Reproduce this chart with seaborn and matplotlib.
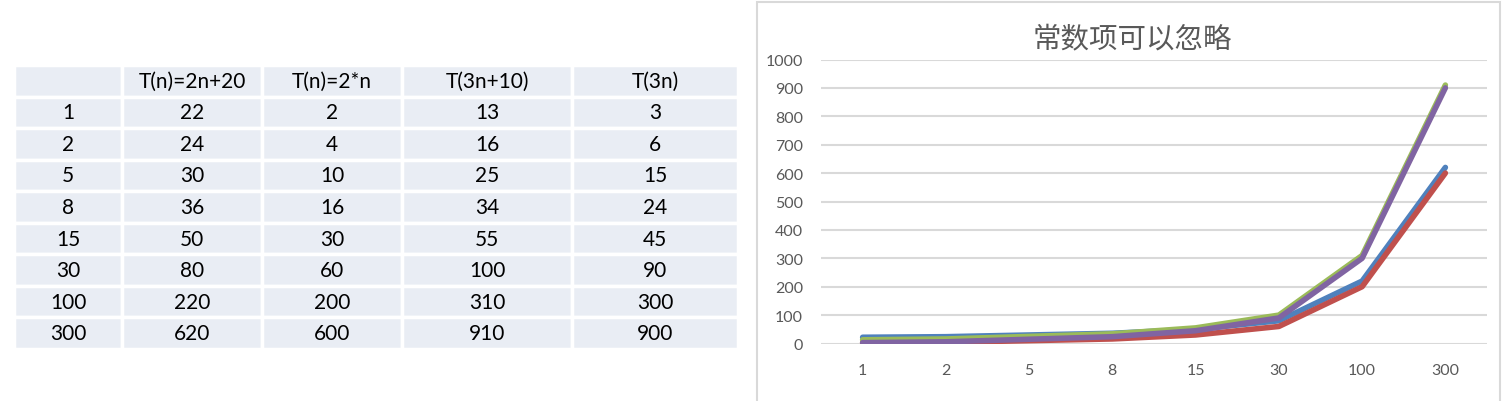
import matplotlib
matplotlib.use("Agg")
import matplotlib.pyplot as plt
from matplotlib.patches import Rectangle
import seaborn as sns
import pandas as pd

# ---- data ----
n_values = ["1", "2", "5", "8", "15", "30", "100", "300"]
series_names = ["T(n)=2n+20", "T(n)=2*n", "T(3n+10)", "T(3n)"]
t_2n_20 = [22, 24, 30, 36, 50, 80, 220, 620]
t_2n = [2, 4, 10, 16, 30, 60, 200, 600]
t_3n_10 = [13, 16, 25, 34, 55, 100, 310, 910]
t_3n = [3, 6, 15, 24, 45, 90, 300, 900]
y_ticks = [0, 100, 200, 300, 400, 500, 600, 700, 800, 900, 1000]
title = "常数项可以忽略"

colors = ["#4F81BD", "#C0504D", "#9BBB59", "#8064A2"]

sns.set_theme(style="white")
plt.rcParams["font.family"] = ["Lato", "Noto Sans CJK SC", "DejaVu Sans"]

W, H = 1506, 402
fig = plt.figure(figsize=(W / 100, H / 100), dpi=100)

# ---- table ----
tab_ax = fig.add_axes([14 / W, (H - 350) / H, 724 / W, 284 / H])
tab_ax.axis("off")
all_series = [t_2n_20, t_2n, t_3n_10, t_3n]
cell_text = [[""] + series_names]
for i, n in enumerate(n_values):
    cell_text.append([n] + [str(s[i]) for s in all_series])
col_w = [108, 140, 140, 170, 166]
col_w = [c / sum(col_w) for c in col_w]
tbl = tab_ax.table(cellText=cell_text, colWidths=col_w, cellLoc="center",
                   bbox=[0, 0, 1, 1])
tbl.auto_set_font_size(False)
for (r, c), cell in tbl.get_celld().items():
    cell.set_facecolor("#E9EDF4")
    cell.set_edgecolor("white")
    cell.set_linewidth(2.5)
    cell.get_text().set_fontsize(15)
    cell.get_text().set_color("#000000")

# ---- chart frame ----
fig.patches.append(Rectangle((757 / W, -0.05), (1500 - 757) / W, (H - 3) / H + 0.05,
                             transform=fig.transFigure, fill=False,
                             edgecolor="#D9D9D9", linewidth=1.5))

# ---- chart ----
ax = fig.add_axes([821 / W, (H - 344.5) / H, (1487 - 821) / W, 284 / H])
rows = []
for name, vals in zip(series_names, all_series):
    for n, v in zip(n_values, vals):
        rows.append({"n": n, "value": v, "series": name})
df = pd.DataFrame(rows)
sns.lineplot(data=df, x="n", y="value", hue="series", hue_order=series_names,
             palette=colors, linewidth=4, ax=ax, legend=False, sort=False)

ax.set_xlim(-0.5, len(n_values) - 0.5)
ax.set_ylim(0, 1000)
ax.set_yticks(y_ticks)
ax.set_xlabel("")
ax.set_ylabel("")
for s in ax.spines.values():
    s.set_visible(False)
ax.grid(axis="y", color="#D9D9D9", linewidth=1.5)
ax.grid(axis="x", visible=False)
ax.set_axisbelow(True)
ax.tick_params(axis="both", length=0, labelsize=11.5, colors="#595959")
ax.tick_params(axis="x", pad=14)
ax.tick_params(axis="y", pad=13)

fig.text(1132 / W, 1 - 39 / H, title, ha="center", va="center", fontsize=20.5,
         color="#595959", family=["Noto Sans CJK SC", "DejaVu Sans"], fontweight="light")

fig.savefig("out.png", dpi=100, facecolor="white")
